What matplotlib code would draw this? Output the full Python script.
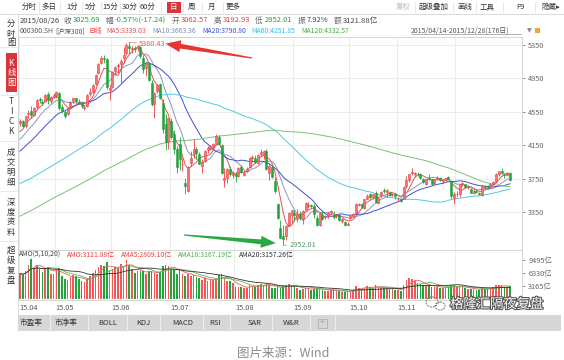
import numpy as np
import pandas as pd
import matplotlib
matplotlib.use('Agg')
import matplotlib.pyplot as plt
import matplotlib.patheffects as pe
from matplotlib.patches import Rectangle, Ellipse

plt.rcParams['font.family'] = ['Noto Sans CJK SC', 'DejaVu Sans']
plt.rcParams['axes.unicode_minus'] = False

# CSI 300 (000300.SH) daily bars, 2015/04/14 - 2015/12/28, 176 days
opens = [4420, 4440, 4380, 4520, 4560, 4510, 4610, 4700, 4670, 4680, 4760, 4680, 4730,
         4750, 4780, 4610, 4550, 4520, 4620, 4680, 4710, 4670, 4650, 4600, 4620, 4760, 4790, 4880, 5010, 5140, 5200, 5180, 4810,
         4850, 5040, 5100, 5120, 5200, 5250, 5340, 5300, 5320, 5310, 5330, 5200, 5070, 5130, 4900, 4640, 4800, 4880, 4650, 4400, 4190,
         4440, 4290, 4100, 4170, 3920, 3700, 3600, 3940, 4050, 4110, 4040, 3900, 3960, 4090, 4110, 4130, 4160, 4250, 4150, 3730, 3760, 3870, 3790,
         3800, 3780, 3890, 3790, 3840, 3890, 4000, 4000, 3940, 4050, 4050, 4080, 3820, 3890, 3720, 3450, 3160, 3062.57, 3060, 3200, 3310,
         3340, 3270, 3330, 3270, 3380, 3420, 3430, 3420, 3280, 3200, 3320, 3290, 3300, 3350, 3320, 3300, 3310, 3240, 3230, 3200,
         3280, 3300, 3340, 3430, 3440, 3400, 3510, 3560, 3530, 3580, 3460, 3550, 3610, 3590, 3590, 3560, 3560,
         3500, 3500, 3500, 3660, 3730, 3820, 3810, 3810, 3810, 3740, 3680, 3760, 3740, 3700, 3750, 3760, 3720, 3730, 3770, 3720, 3520,
         3560, 3560, 3680, 3680, 3650, 3630, 3580, 3600, 3580, 3550, 3660, 3650, 3650, 3680, 3710, 3810, 3840, 3810, 3790, 3820]
highs = [4460, 4450, 4500, 4570, 4620, 4610, 4700, 4730, 4700, 4760, 4790, 4740, 4770,
         4800, 4790, 4640, 4570, 4600, 4680, 4720, 4720, 4700, 4670, 4630, 4760, 4830, 4880, 5000, 5130, 5220, 5230, 5190, 4880,
         5040, 5100, 5140, 5180, 5330, 5370, 5380.43, 5340, 5340, 5350, 5340, 5230, 5150, 5140, 4930, 4790, 4880, 4900, 4700, 4520, 4480,
         4480, 4330, 4140, 4250, 4000, 3760, 3900, 4080, 4230, 4130, 4070, 3990, 4090, 4140, 4150, 4180, 4280, 4270, 4170, 3880, 3880, 3900, 3840,
         3830, 3890, 3910, 3850, 3890, 4010, 4030, 4030, 4040, 4100, 4090, 4110, 3930, 3900, 3770, 3460, 3260, 3192.93, 3190, 3350, 3380,
         3370, 3390, 3360, 3370, 3470, 3470, 3450, 3440, 3310, 3350, 3360, 3320, 3350, 3380, 3360, 3330, 3320, 3280, 3240, 3230,
         3320, 3340, 3460, 3460, 3460, 3500, 3560, 3580, 3570, 3600, 3530, 3600, 3640, 3620, 3600, 3580, 3580,
         3530, 3510, 3660, 3780, 3810, 3880, 3830, 3830, 3820, 3760, 3750, 3800, 3750, 3750, 3780, 3770, 3740, 3760, 3780, 3730, 3590,
         3600, 3690, 3710, 3690, 3670, 3640, 3620, 3620, 3590, 3670, 3670, 3670, 3700, 3720, 3820, 3840, 3880, 3820, 3830, 3830]
lows = [4385, 4370, 4360, 4480, 4480, 4500, 4590, 4660, 4630, 4670, 4640, 4650, 4720,
        4720, 4570, 4530, 4470, 4510, 4600, 4650, 4660, 4640, 4600, 4570, 4610, 4740, 4780, 4870, 5000, 5120, 5130, 4820, 4690,
        4840, 4990, 5020, 4900, 5130, 5230, 5240, 5250, 5270, 5280, 5200, 5010, 4980, 4920, 4620, 4480, 4780, 4700, 4300, 4090, 4100,
        4230, 4040, 3820, 3850, 3840, 3560, 3590, 3900, 4000, 3990, 3920, 3820, 3950, 4060, 4090, 4090, 4150, 4160, 3800, 3650, 3700, 3780, 3760,
        3710, 3770, 3820, 3780, 3830, 3880, 3950, 3940, 3920, 4020, 3990, 3850, 3730, 3760, 3580, 3270, 3040, 2952.01, 3020, 3180, 3220,
        3240, 3230, 3250, 3210, 3370, 3400, 3400, 3280, 3180, 3180, 3250, 3270, 3280, 3330, 3270, 3280, 3240, 3220, 3180, 3190,
        3270, 3290, 3330, 3420, 3400, 3390, 3500, 3500, 3510, 3460, 3450, 3530, 3580, 3530, 3540, 3540, 3510,
        3480, 3470, 3500, 3640, 3710, 3790, 3770, 3780, 3750, 3700, 3670, 3730, 3690, 3690, 3740, 3720, 3700, 3720, 3740, 3520, 3440,
        3530, 3530, 3660, 3640, 3630, 3580, 3570, 3580, 3550, 3540, 3630, 3630, 3640, 3670, 3700, 3780, 3810, 3760, 3780, 3720]
closes = [4435, 4385, 4495, 4530, 4510, 4600, 4690, 4690, 4660, 4750, 4690, 4730, 4750,
          4790, 4590, 4560, 4500, 4590, 4670, 4710, 4680, 4660, 4620, 4610, 4750, 4790, 4870, 4990, 5120, 5200, 5180, 4850, 4840,
          5030, 5090, 5110, 5160, 5230, 5350, 5320, 5310, 5300, 5335, 5220, 5060, 5140, 4930, 4640, 4780, 4870, 4720, 4340, 4190, 4470,
          4250, 4110, 3890, 3980, 3930, 3660, 3890, 4000, 4110, 4060, 3920, 3950, 4080, 4120, 4140, 4160, 4260, 4170, 3820, 3760, 3870, 3800, 3820,
          3780, 3880, 3830, 3820, 3870, 4000, 4010, 3950, 4030, 4070, 4080, 3860, 3900, 3770, 3600, 3280, 3042.93, 3025.69, 3180, 3340, 3370,
          3310, 3330, 3280, 3360, 3460, 3430, 3420, 3330, 3200, 3340, 3270, 3300, 3340, 3360, 3290, 3310, 3250, 3270, 3190, 3210,
          3300, 3330, 3450, 3450, 3410, 3500, 3540, 3530, 3570, 3470, 3520, 3590, 3600, 3610, 3550, 3560, 3540,
          3500, 3480, 3650, 3730, 3800, 3830, 3810, 3800, 3760, 3710, 3750, 3740, 3690, 3750, 3760, 3730, 3730, 3760, 3740, 3540, 3570,
          3570, 3680, 3700, 3650, 3650, 3580, 3600, 3590, 3570, 3660, 3650, 3640, 3690, 3710, 3810, 3840, 3820, 3790, 3820, 3730]
# turnover, 亿元
amounts = [6200, 5800, 6900, 8200, 9700, 7600, 8400, 7300, 6600, 7400, 7900, 6200, 6100,
           7000, 7600, 5600, 4900, 4700, 5300, 5900, 5500, 4900, 4300, 4200, 4900, 5600, 6300, 7000, 7700, 8200, 8000, 9000, 7100,
           7200, 7800, 7500, 8500, 7900, 9500, 8200, 7300, 6400, 6900, 6700, 6800, 6100, 6700, 6800, 6300, 6200, 6600, 8100, 8300, 8000,
           7200, 7200, 6200, 7400, 6100, 5600, 6000, 5700, 5800, 5300, 5000, 4600, 5200, 4400, 4600, 4700, 4800, 5900, 6000, 4900, 4500, 4300, 3800,
           2900, 3000, 2900, 2700, 2800, 3300, 3200, 3000, 3500, 3600, 3400, 3900, 3300, 2700, 2600, 2900, 2700, 3121.88, 3400, 3600, 3300,
           3000, 2800, 2300, 2400, 2700, 2500, 2300, 2500, 2600, 2400, 2200, 2000, 2000, 2100, 2200, 2000, 1900, 1700, 1800, 1600,
           1900, 2300, 3100, 2800, 2500, 2800, 3100, 3000, 2800, 3300, 2700, 2900, 2900, 2800, 2500, 2400, 2300,
           2300, 2000, 3500, 4600, 5100, 4900, 4300, 4000, 3700, 3400, 3400, 3300, 2900, 3000, 2900, 2800, 2700, 2800, 2900, 3400, 3300,
           2900, 3000, 3000, 2700, 2500, 2400, 2400, 2300, 2200, 2600, 2500, 2400, 2700, 2900, 3300, 3500, 3300, 3000, 2900, 3200]
# closes before the window (2014/10 - 2015/04/13), only for the long moving averages
prior_closes = [2440, 2450, 2430, 2420, 2400, 2400, 2390, 2430, 2470, 2490, 2510,
                2510, 2520, 2530, 2570, 2570, 2560, 2560, 2560, 2550, 2560, 2540, 2530, 2550, 2540, 2580, 2650, 2700, 2730, 2760, 2810,
                2900, 2940, 3010, 3110, 3140, 3300, 3130, 3210, 3150, 3200, 3220, 3170, 3140, 3190, 3300, 3360, 3260, 3170, 3290, 3380, 3400, 3450, 3530,
                3640, 3640, 3620, 3580, 3560, 3580, 3570, 3580, 3590, 3640, 3360, 3400, 3510, 3540, 3550, 3540, 3530, 3520, 3480, 3430,
                3360, 3380, 3370, 3350, 3380, 3400, 3420, 3460, 3490, 3500, 3510, 3520, 3480, 3500, 3570,
                3600, 3590, 3550, 3550, 3500, 3530, 3520, 3500, 3540, 3610, 3680, 3800, 3850, 3880, 3930, 3960, 3950, 3960, 3990, 4010, 4040, 4050,
                4100, 4110, 4150, 4240, 4250, 4210, 4290, 4380]

month_starts = [0, 13, 33, 54, 77, 98, 118, 135, 156]
month_labels = ['15.04', '15.05', '15.06', '15.07', '15.08', '15.09', '15.10', '15.11']
price_ticks = [3350, 3750, 4150, 4550, 4950, 5350]
amount_ticks = [3165, 6330, 9495]
ma_windows = [5, 10, 20, 60, 120]
ama_windows = [5, 10, 20]

RED, GREEN = '#e8403f', '#23a33a'
ma_colors = ['#e8505a', '#8d98bd', '#4150cf', '#4fc9e4', '#77c277']
ama_colors = ['#e86060', '#5cb85c', '#333333']

W, H = 564, 360
fig = plt.figure(figsize=(W / 100, H / 100), dpi=100)


def rect(x0, y0, x1, y1):
    return [x0 / W, 1 - y1 / H, (x1 - x0) / W, (y1 - y0) / H]


ax = fig.add_axes(rect(18, 37, 522, 250))
vax = fig.add_axes(rect(18, 250, 522, 300))
ov = fig.add_axes([0, 0, 1, 1], zorder=5)
ov.set_xlim(0, W)
ov.set_ylim(H, 0)
ov.axis('off')
ov.patch.set_alpha(0)

n = len(closes)
x = np.arange(n)
o, h, l, c = (np.array(v, dtype=float) for v in (opens, highs, lows, closes))
up = c >= o
edge = np.where(up, RED, GREEN)

# candles
ax.vlines(x, l, h, colors=edge, linewidth=0.6, zorder=3)
ax.bar(x, np.maximum(np.abs(c - o), 6), bottom=np.minimum(o, c), width=0.75,
       color=np.where(up, '#f37474', GREEN), edgecolor=edge, linewidth=0.4, zorder=4)

full = pd.Series(prior_closes + closes, dtype=float)
k0 = len(prior_closes)
for win, col in zip(ma_windows, ma_colors):
    ax.plot(x, full.rolling(win).mean().values[k0:], color=col, lw=0.7, zorder=2)

# turnover
amt = pd.Series(amounts, dtype=float)
vax.bar(x, amt, width=0.6, color=np.where(up, '#ee5a5a', GREEN), linewidth=0, zorder=3)
for win, col in zip(ama_windows, ama_colors):
    vax.plot(x, amt.rolling(win, min_periods=1).mean(), color=col, lw=0.6, zorder=4)

for a in (ax, vax):
    a.set_xlim(-0.7, n + 3.3)
    a.set_xticks(np.array(month_starts) - 0.5)
    a.tick_params(axis='x', length=0, labelbottom=False)
    a.grid(axis='x', color='#e9e9e9', lw=0.6)
    a.set_axisbelow(True)
    for s in a.spines.values():
        s.set_color('#cfcfcf')
        s.set_linewidth(0.6)
    a.yaxis.tick_right()

ax.set_ylim(2895, 5446)
ax.set_yticks(price_ticks)
ax.grid(axis='y', color='#e9e9e9', lw=0.6)
ax.tick_params(axis='y', labelsize=5.3, colors='#666666', length=2.5, width=0.5, pad=2)

vax.set_ylim(-240, 11930)
vax.set_yticks(amount_ticks, [f'{v}亿' for v in amount_ticks])
vax.tick_params(axis='y', labelsize=5.3, colors='#666666', length=2.5, width=0.5, pad=2)

for s, lab in zip(month_starts, month_labels):
    vax.text(s - 0.2, -0.15, lab, transform=vax.get_xaxis_transform(),
             fontsize=5.3, color='#555555', ha='left', va='center')

# high / low labels
pk = int(np.argmax(h))
lo = int(np.argmin(l))
ax.annotate(f'{h[pk]:.2f}', xy=(pk, h[pk]), xytext=(7, -1), textcoords='offset points',
            fontsize=5.3, color='#e05a5a', va='center',
            arrowprops=dict(arrowstyle='-', color='#e07070', lw=0.5, shrinkA=0, shrinkB=0))
ax.annotate(f'{l[lo]:.2f}', xy=(lo, l[lo]), xytext=(4.5, 0), textcoords='offset points',
            fontsize=5.3, color='#5a9a68', va='center',
            arrowprops=dict(arrowstyle='-', color='#6aa878', lw=0.5, shrinkA=0, shrinkB=0))


def to_ov(xd, yd):
    return ov.transData.inverted().transform(ax.transData.transform((xd, yd)))


def arrow(tail, head, color, head_len=15, head_w=6, neck_w=2.4, tail_w=0.6):
    t = np.array(tail, float)
    hd = np.array(head, float)
    u = (hd - t) / np.hypot(*(hd - t))
    nv = np.array([-u[1], u[0]])
    nk = hd - u * head_len
    pts = [t + nv * tail_w, nk + nv * neck_w, nk + nv * head_w, hd,
           nk - nv * head_w, nk - nv * neck_w, t - nv * tail_w]
    ov.fill(*zip(*pts), color=color, lw=0, zorder=6)


arrow((252, 58), to_ov(pk + 13, h[pk] - 15), '#e8352e')
arrow((184, 235), to_ov(lo - 2.6, l[lo] + 25), '#2aa844')

# ---- chrome: toolbar, header, sidebar ----
ov.plot([0, W], [13.5, 13.5], color='#d4d4d4', lw=0.6)
left_btns = [('分时', 29.5), ('多日', 48.5), ('1分', 72), ('5分', 91), ('15分', 110), ('30分', 129.5),
             ('60分', 147.5), ('日', 173.5), ('周', 191.5), ('月', 211.5), ('更多', 233.5)]
for i, (s, cx) in enumerate(left_btns):
    if s == '日':
        ov.add_patch(Rectangle((166.5, 1.5), 14, 11, color='#d9353a', lw=0))
        ov.text(cx, 7, s, fontsize=5.4, color='white', ha='center', va='center')
    else:
        ov.text(cx, 7, s, fontsize=5.4, color='#333333', ha='center', va='center')
    if i < len(left_btns) - 1:
        sx = (cx + left_btns[i + 1][1]) / 2
        ov.plot([sx, sx], [2, 12], color='#dddddd', lw=0.5)
right_btns = [('复权', 403, '#bbbbbb'), ('超级叠加', 434, '#333333'), ('画线', 465, '#333333'),
              ('工具', 487, '#333333'), ('F9', 520, '#333333'), ('隐藏▸', 551, '#333333')]
for s, cx, col in right_btns:
    ov.text(cx, 7, s, fontsize=5.4, color=col, ha='center', va='center')
for sx in [415, 453, 476, 503, 535]:
    ov.plot([sx, sx], [2, 12], color='#dddddd', lw=0.5)

fig.canvas.draw()
rend = fig.canvas.get_renderer()


def runs(x0, y0, parts, fs=5.5):
    xx = x0
    for s, col, gap in parts:
        t = ov.text(xx, y0, s, fontsize=fs, color=col, ha='left', va='center')
        xx += t.get_window_extent(renderer=rend).width + gap


DK, GR = '#444444', '#666666'
runs(20, 20.5, [('2015/08/26', DK, 3), ('收', GR, 2), ('3025.69', GREEN, 5), ('幅', GR, 2),
                ('-0.57%(-17.24)', GREEN, 5), ('开', GR, 2), ('3062.57', RED, 5), ('高', GR, 2),
                ('3192.93', RED, 5), ('低', GR, 2), ('2952.01', GREEN, 5), ('振', GR, 2),
                ('7.92%', DK, 5), ('额', GR, 2), ('3121.88亿', DK, 0)])

runs(20, 31, [('000300.SH', '#555555', 1.5), ('[沪深300]', '#555555', 4), ('日线', RED, 4),
              ('MA5:3339.03', ma_colors[0], 6), ('MA10:3663.36', '#7d8db5', 6),
              ('MA20:3790.80', ma_colors[2], 6), ('MA60:4251.85', '#33bde0', 6),
              ('MA120:4332.57', '#4aaa4a', 0)], fs=4.9)
ov.text(411, 31, '2015/04/14-2015/12/28(176日)', fontsize=5.0, color='#555555', ha='left', va='center')
ov.plot([411, 521], [34.3, 34.3], color='#777777', lw=0.4)
ov.text(529, 31, '▼', fontsize=4.5, color='#888888', ha='center', va='center', family='DejaVu Sans')
ov.add_patch(Rectangle((534.5, 28), 5, 5, color='#f0a830', lw=0))

# amount panel header
runs(19, 255, [('AMO(5,10,20)', '#444444', 6), ('AMO:3121.88亿', RED, 6), ('AMA5:2809.10亿', RED, 6),
               ('AMA10:3167.19亿', '#4caf50', 6), ('AMA20:3157.26亿', '#333333', 0)], fs=4.9)

# sidebar
ov.plot([17.5, 17.5], [14, 331], color='#d4d4d4', lw=0.6)
for yy in [47, 95, 141, 191, 241]:
    ov.plot([0, 17.5], [yy, yy], color='#e0e0e0', lw=0.5)
ov.add_patch(Rectangle((5.5, 53), 11.5, 39, color='#d9353a', lw=0))
side = [('分', 24), ('时', 34), ('图', 43), ('T', 102), ('I', 112), ('C', 122), ('K', 132),
        ('成', 152), ('交', 162), ('明', 172), ('细', 182), ('深', 202), ('度', 212), ('资', 222), ('料', 232),
        ('超', 250), ('级', 260), ('复', 270), ('盘', 281)]
for s, yy in side:
    ov.text(11, yy, s, fontsize=6, color='#333333', ha='center', va='center')
for s, yy in [('K', 63), ('线', 73), ('图', 83)]:
    ov.text(11.3, yy, s, fontsize=6, color='white', ha='center', va='center')

# bottom indicator bar
ov.add_patch(Rectangle((17.5, 315), 543, 16, color='#d7d7d7', lw=0))
bottom_btns = [('市盈率', 31), ('市净率', 66), ('BOLL', 107.5), ('KDJ', 143.5), ('MACD', 183),
               ('RSI', 215.5), ('SAR', 254.5), ('W&R', 291.5)]
for s, cx in bottom_btns:
    ov.text(cx, 323, s, fontsize=5.5, color='#333333', ha='center', va='center')
for sx in [50, 88, 127, 160, 203, 230, 272, 310, 335]:
    ov.plot([sx, sx], [315, 331], color='#eeeeee', lw=0.8)
ov.add_patch(Rectangle((318, 318.5), 9, 9, fill=False, ec='#aaaaaa', lw=0.5))
ov.text(322.5, 322.8, '+', fontsize=6, color='#aaaaaa', ha='center', va='center')

# watermark
ov.add_patch(Ellipse((432, 302), 12, 10, fill=False, ec='#777777', lw=0.7, ls=(0, (2, 1)), zorder=7))
ov.add_patch(Ellipse((440, 306), 10, 8, fill=False, ec='#777777', lw=0.7, ls=(0, (2, 1)), zorder=7))
ov.text(450, 304, '格隆汇隔夜复盘', fontsize=9.6, color='white', ha='left', va='center', zorder=8,
        path_effects=[pe.withStroke(linewidth=1.6, foreground='#555555')])

ov.text(283, 353, '图片来源：Wind', fontsize=9, color='#8c8c8c', ha='center', va='center')

fig.savefig('out.png', dpi=100, facecolor='white')
